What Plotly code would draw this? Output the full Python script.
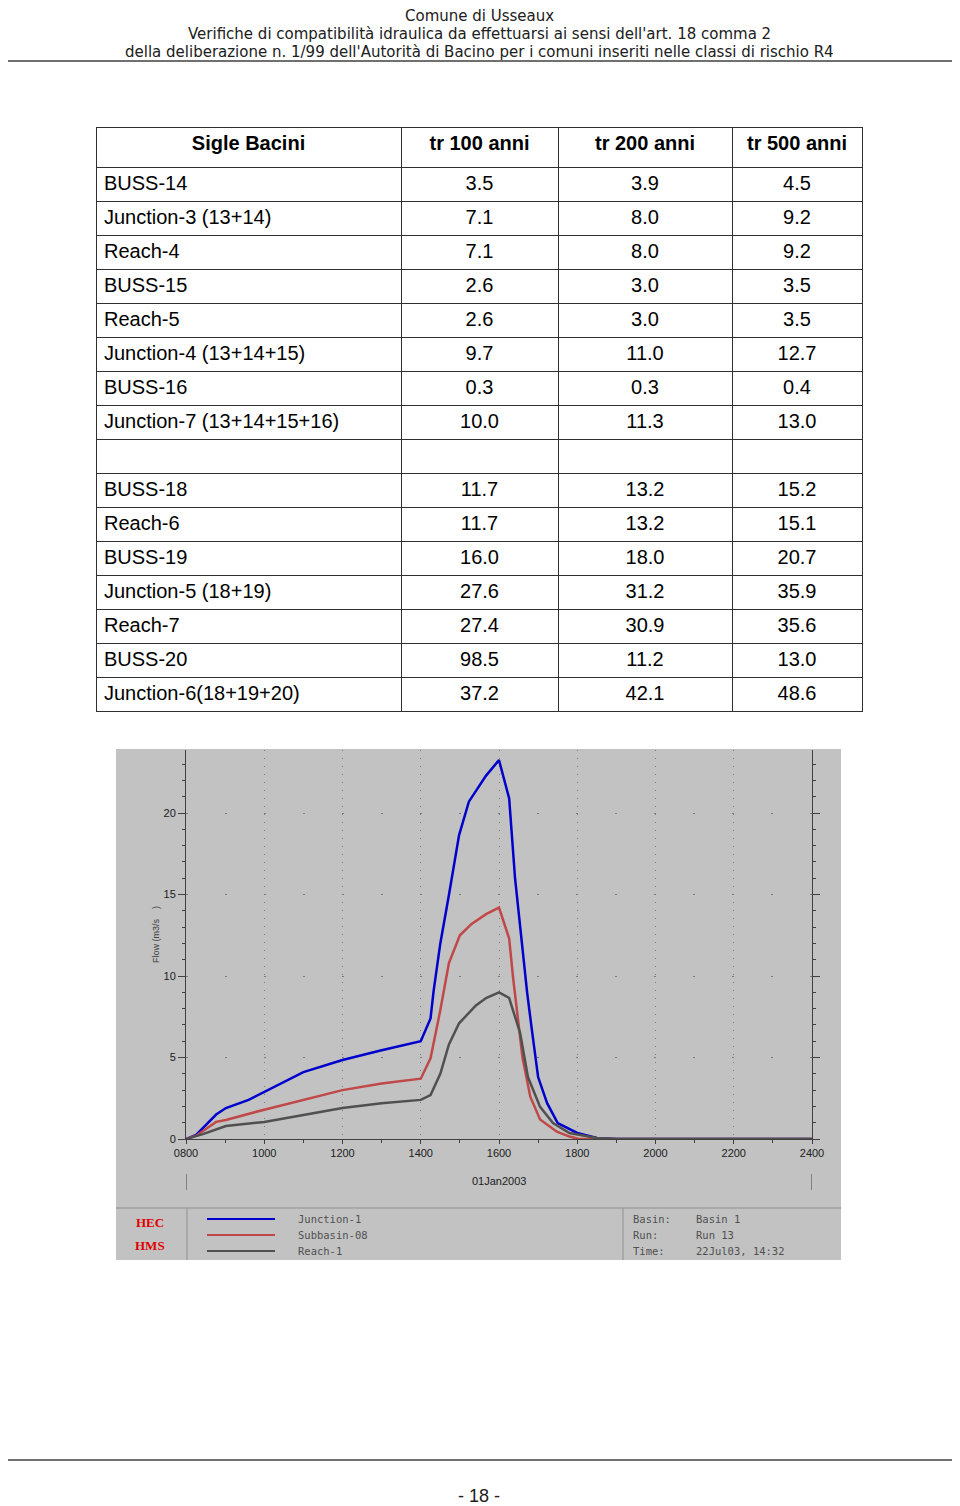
import plotly.graph_objects as go

# The page body adds an 8px offset; the figure is sized to fill the rest of the window.
OFF = 8
W, H = 960 - OFF, 1506 - OFF

def px(x):
    return (x - OFF) / W

def py(y):
    return 1 - (y - OFF) / H

# ---------------- DATA ----------------
header_lines = [
    "Comune di Usseaux",
    "Verifiche di compatibilità idraulica da effettuarsi ai sensi dell'art. 18 comma 2",
    "della deliberazione n. 1/99 dell'Autorità di Bacino per i comuni inseriti nelle classi di rischio R4",
]
page_label = "- 18 -"

table_headers = ["Sigle Bacini", "tr 100 anni", "tr 200 anni", "tr 500 anni"]
sigle = ["BUSS-14", "Junction-3 (13+14)", "Reach-4", "BUSS-15", "Reach-5",
         "Junction-4 (13+14+15)", "BUSS-16", "Junction-7 (13+14+15+16)", "",
         "BUSS-18", "Reach-6", "BUSS-19", "Junction-5 (18+19)", "Reach-7",
         "BUSS-20", "Junction-6(18+19+20)"]
tr100 = [3.5, 7.1, 7.1, 2.6, 2.6, 9.7, 0.3, 10.0, None, 11.7, 11.7, 16.0, 27.6, 27.4, 98.5, 37.2]
tr200 = [3.9, 8.0, 8.0, 3.0, 3.0, 11.0, 0.3, 11.3, None, 13.2, 13.2, 18.0, 31.2, 30.9, 11.2, 42.1]
tr500 = [4.5, 9.2, 9.2, 3.5, 3.5, 12.7, 0.4, 13.0, None, 15.2, 15.1, 20.7, 35.9, 35.6, 13.0, 48.6]

# hydrograph (time in hours of 01Jan2003, flow m3/s)
junction_t = [8.0, 8.26, 8.77, 9.02, 9.6, 10.0, 11.0, 12.0, 13.0, 14.0, 14.25, 14.33, 14.5,
              14.72, 14.98, 15.23, 15.67, 16.0, 16.26, 16.41, 16.59, 16.72, 16.84, 17.0,
              17.23, 17.5, 18.0, 18.5, 19.0, 24.0]
junction_q = [0.0, 0.25, 1.5, 1.9, 2.4, 2.9, 4.1, 4.85, 5.45, 6.0, 7.4, 9.1, 12.0,
              14.97, 18.65, 20.7, 22.3, 23.25, 20.9, 16.0, 11.9, 8.96, 6.7, 3.8,
              2.2, 0.98, 0.37, 0.06, 0.0, 0.0]
subbasin_t = [8.0, 8.26, 8.77, 9.02, 10.0, 11.0, 12.0, 13.0, 14.0, 14.25, 14.5, 14.72,
              15.0, 15.3, 15.67, 16.0, 16.26, 16.36, 16.6, 16.8, 17.05, 17.48, 17.8, 18.05, 24.0]
subbasin_q = [0.0, 0.2, 1.05, 1.17, 1.8, 2.4, 3.0, 3.4, 3.7, 4.95, 7.9, 10.8,
              12.5, 13.2, 13.8, 14.2, 12.3, 9.9, 5.0, 2.6, 1.2, 0.45, 0.15, 0.0, 0.0]
reach_t = [8.0, 8.43, 9.02, 10.0, 11.0, 12.0, 13.0, 14.0, 14.25, 14.5, 14.72, 14.98,
           15.41, 15.67, 16.0, 16.26, 16.54, 16.74, 17.05, 17.38, 17.8, 18.5, 19.0, 24.0]
reach_q = [0.0, 0.3, 0.8, 1.05, 1.47, 1.9, 2.2, 2.4, 2.7, 4.0, 5.8, 7.1,
           8.2, 8.65, 9.0, 8.65, 6.5, 3.8, 1.97, 0.98, 0.37, 0.06, 0.0, 0.0]

series_names = ["Junction-1", "Subbasin-08", "Reach-1"]
series_t = [junction_t, subbasin_t, reach_t]
series_q = [junction_q, subbasin_q, reach_q]
series_colors = ["#0000cc", "#c04848", "#505050"]

x_tickvals = [8, 10, 12, 14, 16, 18, 20, 22, 24]
x_ticktext = ["0800", "1000", "1200", "1400", "1600", "1800", "2000", "2200", "2400"]
y_tickvals = [0, 5, 10, 15, 20]
date_label = "01Jan2003"
y_title = "Flow (m3/s    )"
info_keys = ["Basin:", "Run:", "Time:"]
info_vals = ["Basin 1", "Run 13", "22Jul03, 14:32"]

# ---------------- FIGURE ----------------
fig = go.Figure()

def fmt(v):
    return "" if v is None else f"{v:.1f}"

fig.add_trace(go.Table(
    domain=dict(x=[px(96), px(862)], y=[py(718), py(127)]),
    columnwidth=[305, 157, 174, 130],
    header=dict(values=table_headers,
                height=40,
                align="center",
                line=dict(color="#303030", width=1),
                fill=dict(color="white"),
                font=dict(family="Liberation Sans, Arial", size=20, color="black", weight="bold")),
    cells=dict(values=[sigle, [fmt(v) for v in tr100], [fmt(v) for v in tr200], [fmt(v) for v in tr500]],
               height=34,
               align=["left", "center", "center", "center"],
               line=dict(color="#303030", width=1),
               fill=dict(color="white"),
               font=dict(family="Liberation Sans, Arial", size=20, color="black")),
))

for name, t, q, c in zip(series_names, series_t, series_q, series_colors):
    fig.add_trace(go.Scatter(x=t, y=q, mode="lines", name=name,
                             line=dict(color=c, width=2.5), showlegend=False,
                             hoverinfo="skip"))

shapes = []
annotations = []

# header
for txt, yy in zip(header_lines, (16.5, 34, 51.5)):
    annotations.append(dict(text=txt, x=px(479), y=py(yy), xref="paper", yref="paper",
                            xanchor="center", yanchor="middle", showarrow=False,
                            font=dict(family="DejaVu Sans", size=15, color="#202020")))
shapes.append(dict(type="line", xref="paper", yref="paper", x0=0, x1=1, y0=py(61), y1=py(61),
                   line=dict(color="#404040", width=1.5)))
shapes.append(dict(type="line", xref="paper", yref="paper", x0=0, x1=1, y0=py(1460), y1=py(1460),
                   line=dict(color="#404040", width=1.5)))
annotations.append(dict(text=page_label, x=px(479), y=py(1496), xref="paper", yref="paper",
                        xanchor="center", yanchor="middle", showarrow=False,
                        font=dict(family="Liberation Sans, Arial", size=18, color="#202020")))

# chart panel
gray = "#c2c2c2"
shapes.append(dict(type="rect", xref="paper", yref="paper", x0=px(116), x1=px(841), y0=py(1260), y1=py(749),
                   fillcolor=gray, line=dict(width=0), layer="below"))
shapes.append(dict(type="line", xref="paper", yref="paper", x0=px(116), x1=px(841), y0=py(1208), y1=py(1208),
                   line=dict(color="#909090", width=1)))
for xx in (187, 623):
    shapes.append(dict(type="line", xref="paper", yref="paper", x0=px(xx), x1=px(xx), y0=py(1260), y1=py(1208),
                       line=dict(color="#909090", width=1)))
for xv in (8, 24):
    shapes.append(dict(type="line", xref="x", yref="paper", x0=xv, x1=xv, y0=py(1190), y1=py(1174),
                       line=dict(color="#404040", width=1)))

annotations.append(dict(text=date_label, x=16, xref="x", y=py(1181), yref="paper",
                        xanchor="center", yanchor="middle", showarrow=False,
                        font=dict(family="Liberation Sans, Arial", size=11, color="#202020")))
annotations.append(dict(text=y_title, x=px(156), y=py(935), xref="paper", yref="paper",
                        textangle=-90, xanchor="center", yanchor="middle", showarrow=False,
                        font=dict(family="Liberation Sans, Arial", size=9, color="#404040")))

# HEC-HMS logo
for txt, yy in (("HEC", 1222), ("HMS", 1245)):
    annotations.append(dict(text=txt, x=px(150), y=py(yy), xref="paper", yref="paper",
                            xanchor="center", yanchor="middle", showarrow=False,
                            font=dict(family="Liberation Serif", size=13, color="#e00000", weight="bold")))

# custom legend
for i, (name, c) in enumerate(zip(series_names, series_colors)):
    yy = 1219 + 16 * i
    shapes.append(dict(type="line", xref="paper", yref="paper", x0=px(207), x1=px(275), y0=py(yy), y1=py(yy),
                       line=dict(color=c, width=2)))
    annotations.append(dict(text=name, x=px(296), y=py(yy), xref="paper", yref="paper",
                            xanchor="left", yanchor="middle", showarrow=False,
                            font=dict(family="DejaVu Sans Mono", size=10.5, color="#505050")))
for i, (k, v) in enumerate(zip(info_keys, info_vals)):
    yy = 1219 + 16 * i
    annotations.append(dict(text=k, x=px(631), y=py(yy), xref="paper", yref="paper",
                            xanchor="left", yanchor="middle", showarrow=False,
                            font=dict(family="DejaVu Sans Mono", size=10.5, color="#505050")))
    annotations.append(dict(text=v, x=px(694), y=py(yy), xref="paper", yref="paper",
                            xanchor="left", yanchor="middle", showarrow=False,
                            font=dict(family="DejaVu Sans Mono", size=10.5, color="#505050")))

tickfont = dict(family="Liberation Sans, Arial", size=11, color="#202020")
fig.update_layout(
    width=W, height=H,
    autosize=False,
    margin=dict(l=0, r=0, t=0, b=0, pad=0, autoexpand=False),
    paper_bgcolor="white",
    plot_bgcolor=gray,
    showlegend=False,
    shapes=shapes,
    annotations=annotations,
    xaxis=dict(domain=[px(186), px(812)], range=[8, 24], tickmode="array", automargin=False,
               tickvals=x_tickvals, ticktext=x_ticktext, ticks="outside", ticklen=4,
               tickcolor="#404040", showline=True, linecolor="#404040", linewidth=1,
               showgrid=True, gridcolor="#7a7a7a", gridwidth=1, griddash="1px,7px",
               zeroline=False, tickfont=tickfont,
               minor=dict(dtick=1, tick0=8, ticks="outside", ticklen=3, tickcolor="#404040", showgrid=False)),
    yaxis=dict(domain=[py(1139), py(750)], range=[0, 23.87], tickmode="array", automargin=False,
               tickvals=y_tickvals, ticks="outside", ticklen=7, tickcolor="#404040",
               showline=True, linecolor="#404040", linewidth=1, mirror="ticks",
               showgrid=True, gridcolor="#7a7a7a", gridwidth=1, griddash="2px,37px",
               zeroline=False, tickfont=tickfont,
               minor=dict(dtick=1, tick0=0, ticks="outside", ticklen=3, tickcolor="#404040", showgrid=False)),
)

fig.write_html("out.html")
